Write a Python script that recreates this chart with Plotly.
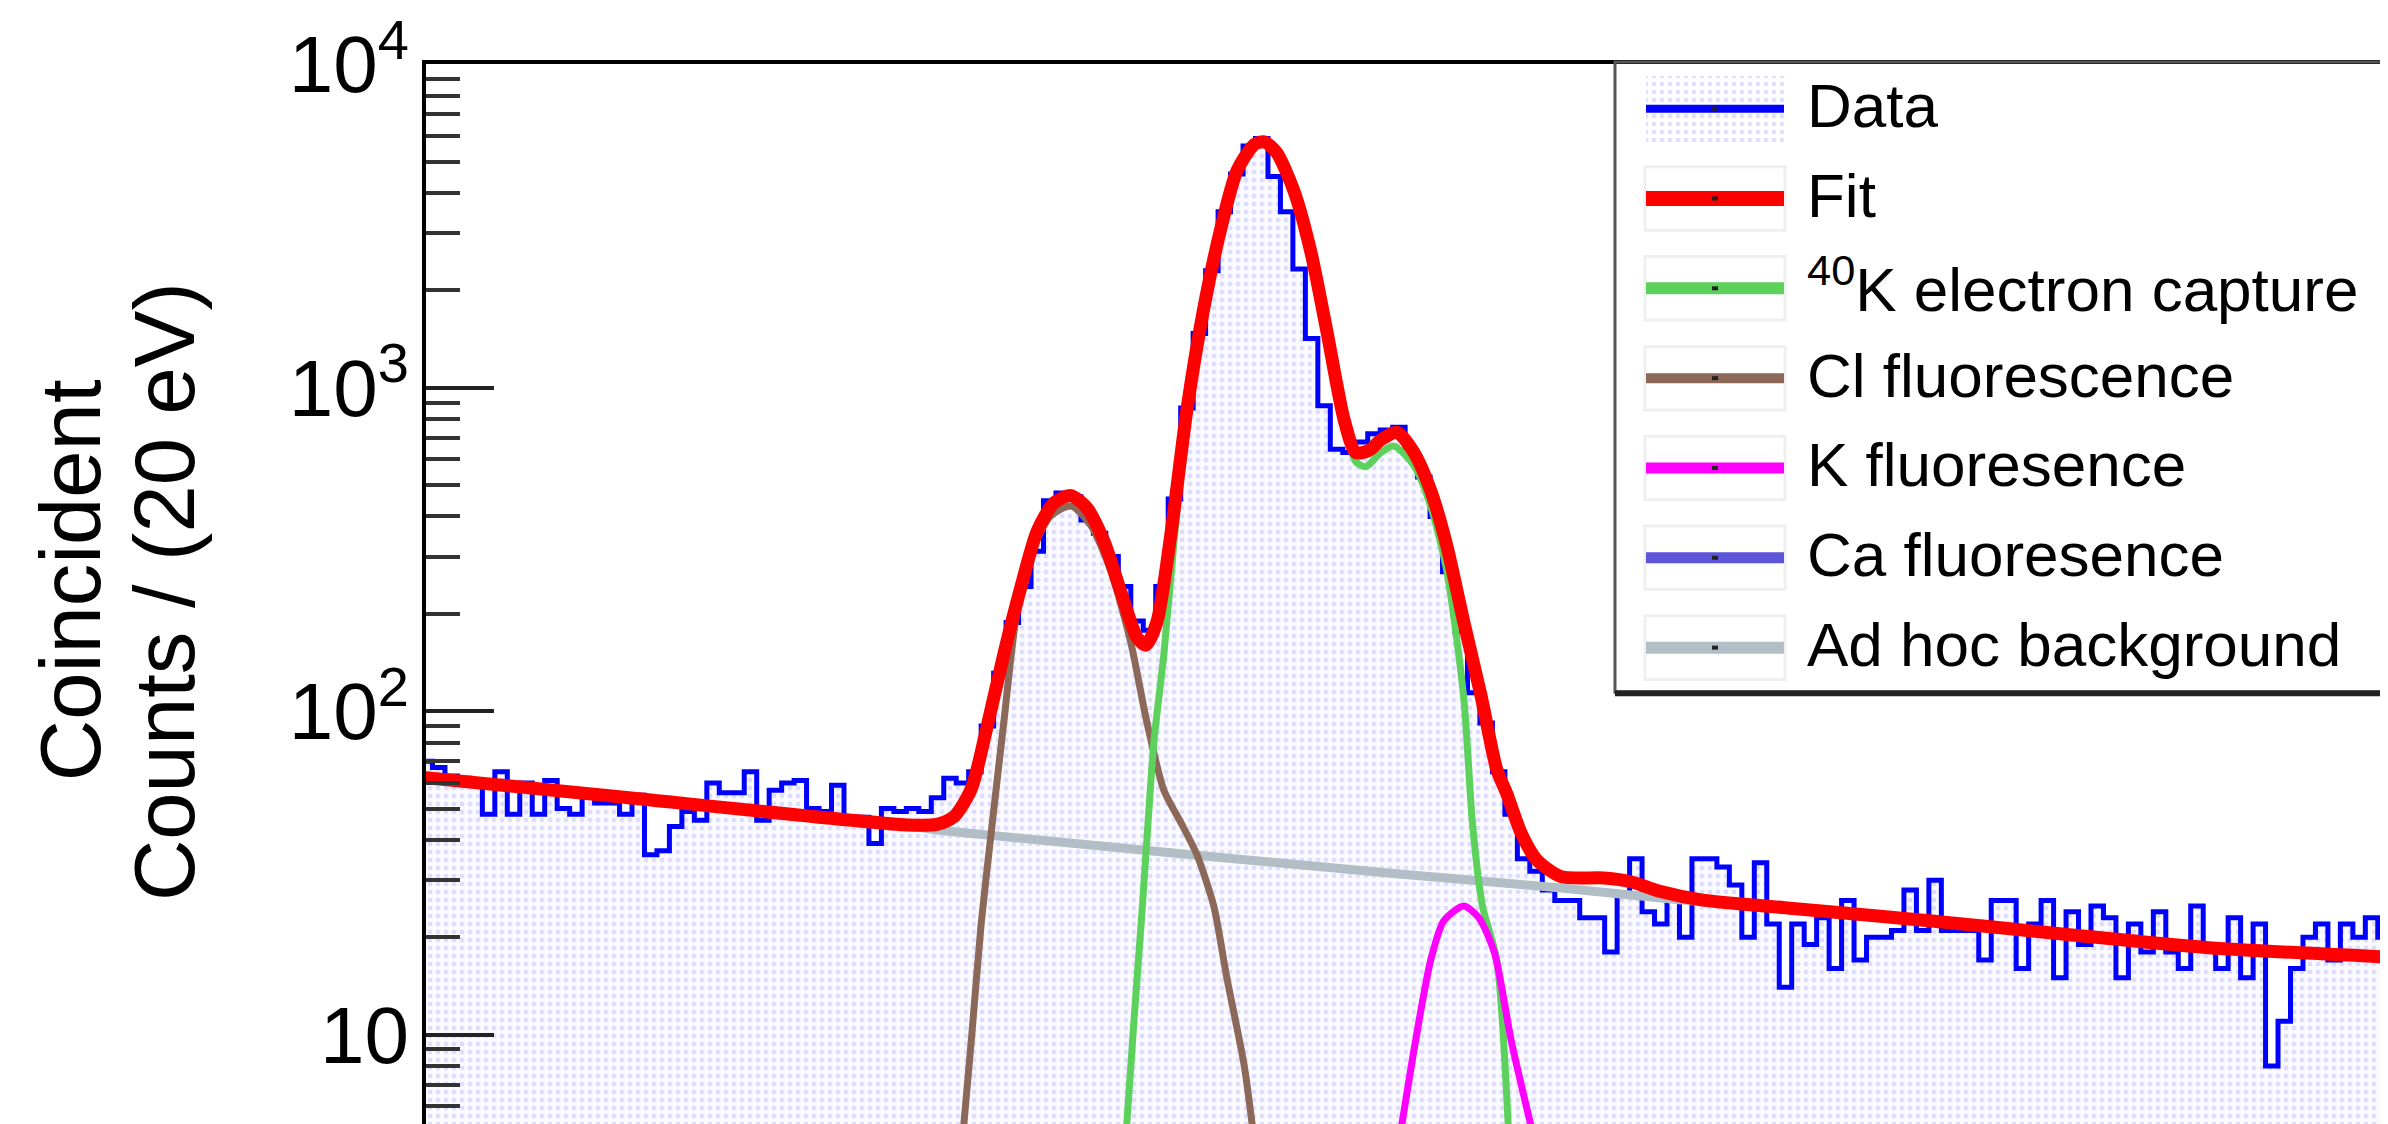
"""Coincident energy spectrum with fit components (ROOT-style, log y)."""
import plotly.graph_objects as go

FONT = "Liberation Sans, Arial, Helvetica, sans-serif"

# histogram: 20 eV bins, left edge of first bin in keV
BIN_START = 1.60
BIN_WIDTH = 0.02
counts = [
    70, 67, 63, 62, 60, 48, 65, 48, 60, 48,
    61, 50, 48, 55, 52, 52, 48, 55, 36, 37,
    44, 49, 46, 60, 56, 56, 65, 46, 57, 60,
    61, 50, 49, 59, 47, 47, 39, 50, 49, 50,
    49, 54, 62, 60, 65, 90, 131, 188, 243, 312,
    447, 473, 460, 390, 355, 301, 243, 190, 178, 243,
    453, 865, 1470, 2300, 3500, 4580, 5585, 5890, 4500, 3500,
    2330, 1420, 880, 645, 630, 680, 720, 740, 755, 620,
    530, 400, 270, 176, 114, 92, 65, 48, 35, 32,
    28, 26, 26, 23, 23, 18, 27, 35, 24, 22,
    27, 20, 35, 35, 33, 29, 20, 34, 22, 14,
    22, 19, 23, 16, 26, 17, 20, 20, 21, 28,
    21, 30, 21, 21, 21, 17, 26, 26, 16, 22,
    26, 15, 24, 19, 25, 23, 15, 22, 18, 24,
    18, 16, 25, 19, 16, 23, 15, 22, 8, 11,
    16, 20, 22, 17, 22, 20, 23, 20, 22,
]

# total fit (keV, counts)
fit_x = [1.603, 1.895, 2.381, 2.429, 2.456, 2.484, 2.509, 2.537, 2.564, 2.590,
         2.617, 2.644, 2.670, 2.697, 2.724, 2.750, 2.764, 2.782, 2.805, 2.830,
         2.857, 2.885, 2.910, 2.938, 2.954, 2.974, 3.002, 3.029, 3.055, 3.082,
         3.101, 3.122, 3.141, 3.167, 3.194, 3.221, 3.247, 3.274, 3.302, 3.327,
         3.343, 3.366, 3.391, 3.430, 3.499, 3.542, 3.590, 3.655, 3.797, 4.020,
         4.242, 4.464, 4.775]
fit_y = [62.4, 55, 44.5, 44.7, 47.1, 57.4, 88.7, 152, 243, 361,
         441, 464, 424, 335, 234, 169, 160, 189, 361, 855,
         1758, 3140, 4670, 5650, 5760, 5330, 4040, 2620, 1476, 798,
         630, 640, 690, 728, 631, 481, 324, 189, 111, 66,
         55.6, 42, 34.7, 30.8, 30.5, 29.7, 27.7, 26.1, 24.6, 22.5,
         20.4, 18.6, 17.3]

# 40K electron capture component
ec_x = [2.731, 2.745, 2.758, 2.777, 2.793, 2.809, 2.830, 2.857, 2.885, 2.910,
        2.938, 2.954, 2.974, 3.002, 3.029, 3.055, 3.082, 3.101, 3.117, 3.141,
        3.162, 3.194, 3.221, 3.247, 3.274, 3.288, 3.304, 3.327, 3.347]
ec_y = [4.5, 11, 24, 80, 150, 330, 800, 1720, 3100, 4630,
        5620, 5720, 5300, 4010, 2590, 1450, 770, 590, 570, 630,
        660, 575, 430, 270, 110, 45, 25, 17, 4.5]

# Cl fluorescence component
cl_x = [2.469, 2.485, 2.500, 2.516, 2.537, 2.557, 2.585, 2.612, 2.644, 2.676,
        2.708, 2.740, 2.766, 2.793, 2.821, 2.846, 2.873, 2.894, 2.922, 2.939]
cl_y = [4.5, 10, 22, 42, 95, 200, 324, 402, 431, 375,
        271, 163, 92, 57, 45, 36, 25, 15, 8, 4.5]

# K fluorescence component
kfl_x = [3.169, 3.196, 3.221, 3.242, 3.274, 3.298, 3.323, 3.351, 3.390]
kfl_y = [4.5, 9.4, 17, 22.5, 25, 23, 18, 9.4, 4.5]

# ad hoc background
bkg_x = [1.603, 1.895, 2.381, 2.444, 3.170, 3.430, 3.619, 3.797, 4.020,
         4.242, 4.464, 4.775]
bkg_y = [62.4, 54.8, 44.3, 42.6, 31.4, 28.4, 26.1, 24.6, 22.5,
         20.4, 18.6, 17.3]

y_major = [10, 100, 1000, 10000]
y_major_text = ["10", "10<sup>2</sup>", "10<sup>3</sup>", "10<sup>4</sup>"]
y_minor = [6, 7, 8, 9, 20, 30, 40, 50, 60, 70, 80, 90,
           200, 300, 400, 500, 600, 700, 800, 900,
           2000, 3000, 4000, 5000, 6000, 7000, 8000, 9000]

legend_labels = ["Data", "Fit", "<sup>40</sup>K electron capture", "Cl fluorescence",
                 "K fluoresence", "Ca fluoresence", "Ad hoc background"]

COLOR_DATA = "#0000ff"
COLOR_FIT = "#ff0000"
COLOR_EC = "#5cd25c"
COLOR_CL = "#8b6858"
COLOR_KFL = "#ff00ff"
COLOR_CA = "#5b55d8"
COLOR_BKG = "#b1bec6"
legend_colors = [COLOR_DATA, COLOR_FIT, COLOR_EC, COLOR_CL, COLOR_KFL, COLOR_CA, COLOR_BKG]
legend_widths = [8, 15, 12, 10, 11, 11, 12]

# page geometry (px)
W, H = 2388, 1124
L, T = 418, 48
PW, PH = W - L, H - T
X_RANGE = [1.6096, 4.7692]
Y_RANGE = [0.699, 4.0008]


def px_x(px):
    return (px - L) / PW


def px_y(py):
    return (T + PH - py) / PH


def data_x(px):
    return X_RANGE[0] + (px - L) / PW * (X_RANGE[1] - X_RANGE[0])


def data_y(py):
    return 10 ** (Y_RANGE[1] - (py - T) / PH * (Y_RANGE[1] - Y_RANGE[0]))


fig = go.Figure()

# data histogram (step outline + dotted fill)
edges = [BIN_START + BIN_WIDTH * k for k in range(len(counts) + 1)]
hx = edges + [edges[-1], edges[0]]
hy = counts + [counts[-1], 1, 1]
dot_fill = dict(shape=".", fgcolor="#c2c2fa", bgcolor="#fafaff", size=8, solidity=0.3)
fig.add_trace(go.Scatter(
    x=hx, y=hy, mode="lines", line=dict(color=COLOR_DATA, width=5, shape="hv"),
    fill="toself", fillcolor="#fafaff", fillpattern=dot_fill,
    hoverinfo="skip", showlegend=False
))

for xs, ys, color, width in [
    (bkg_x, bkg_y, COLOR_BKG, 9),
    (cl_x, cl_y, COLOR_CL, 7),
    (ec_x, ec_y, COLOR_EC, 7),
    (kfl_x, kfl_y, COLOR_KFL, 7),
    (fit_x, fit_y, COLOR_FIT, 13),
]:
    fig.add_trace(go.Scatter(
        x=xs, y=ys, mode="lines",
        line=dict(color=color, width=width, shape="spline", smoothing=0.7),
        hoverinfo="skip", showlegend=False
    ))

# legend swatch for the data (dotted box)
sw_l, sw_r = 1638, 1776
fig.add_trace(go.Scatter(
    x=[data_x(sw_l), data_x(sw_r), data_x(sw_r), data_x(sw_l)],
    y=[data_y(60), data_y(60), data_y(127), data_y(127)],
    mode="lines", line=dict(width=0), fill="toself", fillcolor="#ffffff",
    fillpattern=dict(shape=".", fgcolor="#c2c2fa", bgcolor="#ffffff", size=8, solidity=0.3),
    hoverinfo="skip", showlegend=False
))

# carrier trace for the major-tick axis
fig.add_trace(go.Scatter(x=[X_RANGE[0]], y=[100], yaxis="y2", mode="markers",
                         marker=dict(opacity=0), hoverinfo="skip", showlegend=False))

shapes = []
annotations = []

# legend frame
shapes.append(dict(type="rect", xref="paper", yref="paper", layer="below",
                   x0=px_x(1607), x1=px_x(2400), y0=px_y(681), y1=px_y(46),
                   fillcolor="white", line=dict(width=0)))
shapes.append(dict(type="rect", xref="paper", yref="paper",
                   x0=px_x(1607), x1=px_x(2400), y0=px_y(681), y1=px_y(46),
                   line=dict(color="#555555", width=3)))
shapes.append(dict(type="line", xref="paper", yref="paper",
                   x0=px_x(1607), x1=px_x(2400), y0=px_y(682), y1=px_y(682),
                   line=dict(color="#222222", width=6)))

for i, (label, color, lw) in enumerate(zip(legend_labels, legend_colors, legend_widths)):
    ly = 93 + 90.5 * i
    if i > 0:
        shapes.append(dict(type="rect", xref="paper", yref="paper",
                           x0=px_x(sw_l - 1), x1=px_x(sw_r + 1),
                           y0=px_y(ly + 32), y1=px_y(ly - 32),
                           line=dict(color="#efefef", width=3)))
    shapes.append(dict(type="line", xref="paper", yref="paper",
                       x0=px_x(sw_l), x1=px_x(sw_r), y0=px_y(ly), y1=px_y(ly),
                       line=dict(color=color, width=lw)))
    shapes.append(dict(type="rect", xref="paper", yref="paper",
                       x0=px_x(1704), x1=px_x(1710), y0=px_y(ly + 2), y1=px_y(ly - 2),
                       fillcolor="#222222", line=dict(width=0)))
    annotations.append(dict(xref="paper", yref="paper", x=px_x(1797), y=px_y(ly - 3),
                            xanchor="left", yanchor="middle", showarrow=False,
                            text=label, font=dict(family=FONT, size=62, color="black")))

# y-axis title, two lines
annotations.append(dict(xref="paper", yref="paper", x=px_x(62), y=px_y(568),
                        xanchor="center", yanchor="middle", showarrow=False, textangle=-90,
                        text="Coincident", font=dict(family=FONT, size=85, color="black")))
annotations.append(dict(xref="paper", yref="paper", x=px_x(156), y=px_y(580),
                        xanchor="center", yanchor="middle", showarrow=False, textangle=-90,
                        text="Counts / (20 eV)", font=dict(family=FONT, size=85, color="black")))

fig.update_layout(
    width=W, height=H,
    margin=dict(l=L, r=0, t=T, b=0),
    paper_bgcolor="white", plot_bgcolor="white",
    showlegend=False,
    shapes=shapes, annotations=annotations,
    xaxis=dict(range=X_RANGE, showticklabels=False, ticks="", showgrid=False,
               zeroline=False, showline=True, mirror=True, linecolor="black", linewidth=4),
    yaxis=dict(type="log", range=Y_RANGE, tickmode="array", tickvals=y_minor,
               showticklabels=False, ticks="inside", ticklen=34, tickwidth=4,
               tickcolor="#333333", showgrid=False, zeroline=False,
               showline=True, linecolor="black", linewidth=4),
    yaxis2=dict(type="log", range=Y_RANGE, overlaying="y", side="left",
                tickmode="array", tickvals=y_major, ticktext=y_major_text,
                ticks="inside", ticklen=68, tickwidth=4, tickcolor="#222222",
                ticklabelstandoff=16, ticklabeloverflow="allow",
                showgrid=False, zeroline=False, showline=False,
                tickfont=dict(family=FONT, size=80, color="black")),
)

fig.write_html("out.html")
